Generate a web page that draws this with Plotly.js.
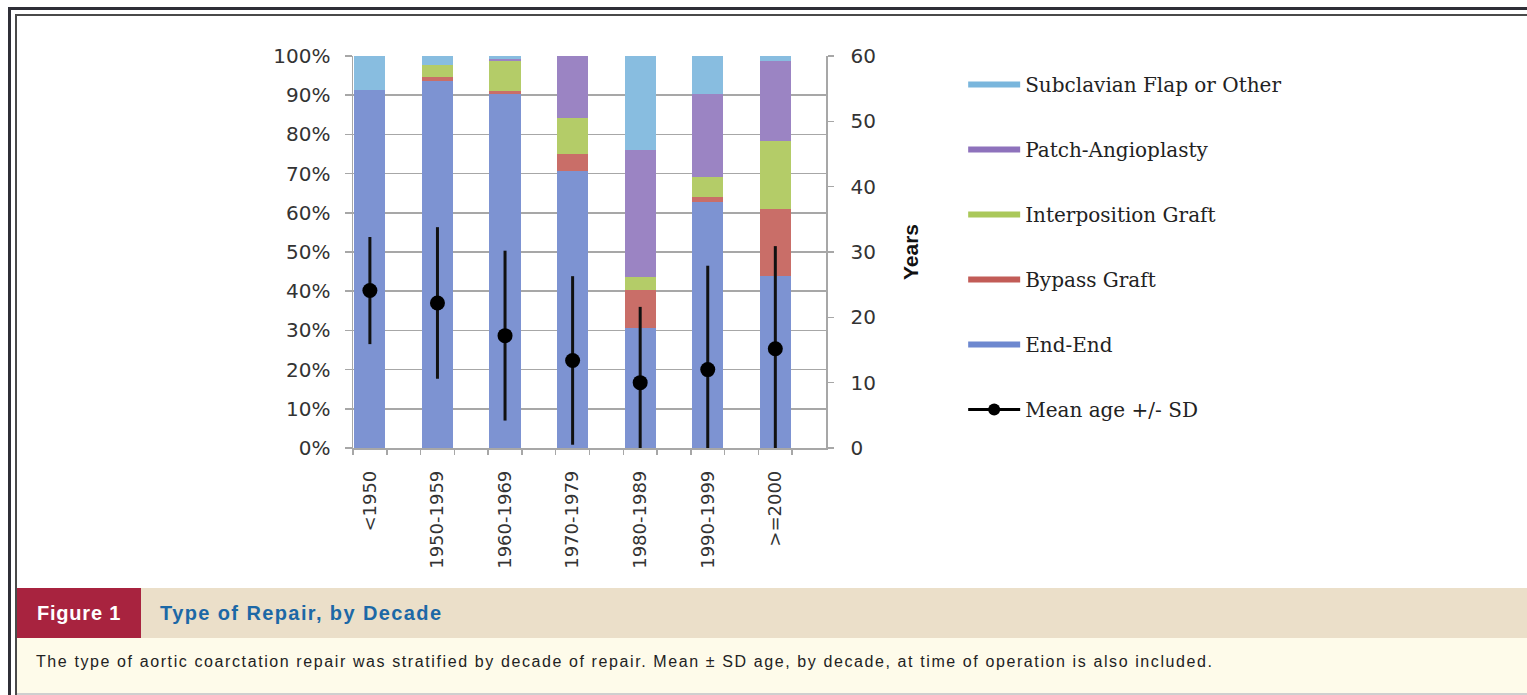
<!DOCTYPE html>
<html>
<head>
<meta charset="utf-8">
<script src="https://cdn.plot.ly/plotly-3.0.1.min.js"></script>
<style>
  html, body { margin:0; padding:0; background:#ffffff; }
  body { width:1527px; height:695px; position:relative; overflow:hidden; }
  #outer { position:absolute; left:8px; top:7px; width:1530px; height:700px; border-top:3px solid #2f2f37; border-left:3px solid #2f2f37; box-sizing:border-box; }
  #inner { position:absolute; left:15px; top:14px; width:1530px; height:700px; border-top:2px solid #4a4a4a; border-left:2px solid #4a4a4a; box-sizing:border-box; }
  #chart { position:absolute; left:0; top:0; width:1527px; height:588px; z-index:2; }
  #band { position:absolute; left:17px; top:588px; width:1510px; height:50px; background:#ebdfc9; z-index:3; }
  #figlab { position:absolute; left:0; top:0; width:124px; height:50px; background:#a8233f; color:#ffffff;
            font-family:"Liberation Sans", Arial, sans-serif; font-weight:bold; font-size:20px; letter-spacing:0.8px; line-height:50px; text-align:center; }
  #figtitle { position:absolute; left:143px; top:0; height:50px; line-height:50px; color:#1c68a6;
            font-family:"Liberation Sans", Arial, sans-serif; font-weight:bold; font-size:20px; letter-spacing:1.4px; }
  #desc { position:absolute; left:17px; top:638px; width:1510px; height:55px; background:#fefbea; z-index:3; }
  #desctext { position:absolute; left:19px; top:15px; color:#222222; font-family:"Liberation Sans", Arial, sans-serif; font-size:16px; letter-spacing:1.6px; white-space:nowrap; }
  #bottomline { position:absolute; left:17px; top:693px; width:1510px; height:2px; background:#cfcfcf; z-index:3; }
</style>
</head>
<body>
<div id="outer"></div>
<div id="inner"></div>
<div id="chart"></div>
<div id="band"><div id="figlab">Figure 1</div><div id="figtitle">Type of Repair, by Decade</div></div>
<div id="desc"><div id="desctext">The type of aortic coarctation repair was stratified by decade of repair. Mean ± SD age, by decade, at time of operation is also included.</div></div>
<div id="bottomline"></div>
<script>
// ---- data ----
const categories = ['<1950', '1950-1959', '1960-1969', '1970-1979', '1980-1989', '1990-1999', '>=2000'];
const endEnd        = [91.3, 93.5, 90.3, 70.7, 30.5, 62.8, 43.9];
const bypassGraft   = [0.0,  1.2,  0.9,  4.3,  9.8,  1.3, 17.1];
const interposition = [0.0,  3.0,  7.6,  9.3,  3.4,  5.1, 17.3];
const patchAngio    = [0.0,  0.0,  0.4, 15.7, 32.3, 21.1, 20.4];
const subclavian    = [8.7,  2.3,  0.8,  0.0, 24.0,  9.7,  1.3];
const meanAge       = [24.1, 22.2, 17.2, 13.4, 10.0, 12.0, 15.2];
const sdAge         = [8.2, 11.6, 13.0, 12.9, 11.6, 15.9, 15.7];
const leftTicks  = [0, 10, 20, 30, 40, 50, 60, 70, 80, 90, 100];
const rightTicks = [0, 10, 20, 30, 40, 50, 60];

const xs = categories.map((c, i) => i);
const minorTicks = [];
for (let j = 0; j < 14; j++) minorTicks.push(-0.25 + 0.5 * j);

const seriesDefs = [
  {name: 'End-End',                 vals: endEnd,        bar: '#7d93d2', leg: '#6d88cf', rank: 5},
  {name: 'Bypass Graft',            vals: bypassGraft,   bar: '#c96e68', leg: '#c25c57', rank: 4},
  {name: 'Interposition Graft',     vals: interposition, bar: '#b4cc68', leg: '#aac85a', rank: 3},
  {name: 'Patch-Angioplasty',       vals: patchAngio,    bar: '#9b84c3', leg: '#8e72bc', rank: 2},
  {name: 'Subclavian Flap or Other',vals: subclavian,    bar: '#88bde0', leg: '#7ab6dc', rank: 1}
];

const traces = [];
seriesDefs.forEach(s => {
  traces.push({
    type: 'bar', x: xs, y: s.vals, width: 0.46, name: s.name,
    marker: {color: s.bar, line: {width: 0}}, showlegend: false,
    xaxis: 'x', yaxis: 'y', hoverinfo: 'skip'
  });
});
// legend entries (wide line swatches)
seriesDefs.forEach(s => {
  traces.push({
    type: 'scatter', mode: 'lines', x: [null], y: [null], name: s.name,
    line: {color: s.leg, width: 6}, legendgroup: s.name, legendrank: s.rank,
    xaxis: 'x', yaxis: 'y', hoverinfo: 'skip'
  });
});
traces.push({
  type: 'scatter', mode: 'lines+markers', x: [null], y: [null], name: 'Mean age +/- SD',
  line: {color: '#000000', width: 3}, marker: {color: '#000000', size: 12},
  legendgroup: 'mean', legendrank: 6, xaxis: 'x', yaxis: 'y', hoverinfo: 'skip'
});
// mean age with SD
traces.push({
  type: 'scatter', mode: 'markers', x: xs, y: meanAge, name: 'Mean age +/- SD',
  marker: {color: '#000000', size: 15},
  error_y: {type: 'data', array: sdAge, symmetric: true, color: '#111111', thickness: 3, width: 0},
  showlegend: false, xaxis: 'x', yaxis: 'y2', cliponaxis: true, hoverinfo: 'skip'
});
// invisible trace to carry the minor tick axis
traces.push({type: 'scatter', mode: 'markers', x: [null], y: [null], xaxis: 'x2', yaxis: 'y', showlegend: false, hoverinfo: 'skip'});

const gridCol = '#a7a7a7';
const tickFont = {family: 'DejaVu Sans, Verdana, sans-serif', size: 20, color: '#333333'};

const layout = {
  width: 1527, height: 588,
  margin: {l: 353, r: 701, t: 56, b: 140, pad: 0},
  paper_bgcolor: 'rgba(0,0,0,0)', plot_bgcolor: '#ffffff',
  barmode: 'stack', bargap: 0,
  showlegend: true,
  legend: {
    x: 1.29, xanchor: 'left', y: 0.977, yanchor: 'top',
    traceorder: 'grouped', tracegroupgap: 36,
    font: {family: 'DejaVu Serif, Georgia, serif', size: 20, color: '#222222'},
    bgcolor: 'rgba(0,0,0,0)', itemwidth: 52
  },
  xaxis: {
    range: [-0.25, 6.75], tickmode: 'array', tickvals: xs, ticktext: categories,
    ticks: '', tickangle: -90, ticklabelstandoff: 14,
    tickfont: {family: 'DejaVu Sans, Verdana, sans-serif', size: 18, color: '#333333'},
    showline: true, linecolor: gridCol, linewidth: 1.5, showgrid: false, zeroline: false, fixedrange: true
  },
  xaxis2: {
    overlaying: 'x', matches: 'x', range: [-0.25, 6.75], side: 'bottom', anchor: 'y',
    tickmode: 'array', tickvals: minorTicks, ticks: 'outside', ticklen: 6, tickwidth: 1.5, tickcolor: gridCol,
    showticklabels: false, showline: false, showgrid: false, zeroline: false, fixedrange: true
  },
  yaxis: {
    range: [0, 100], tickmode: 'array', tickvals: leftTicks, ticktext: leftTicks.map(v => v + '%'),
    ticks: 'outside', ticklen: 7, tickwidth: 1.5, tickcolor: gridCol, ticklabelstandoff: 10,
    tickfont: tickFont, showline: true, linecolor: gridCol, linewidth: 1.5,
    showgrid: true, gridcolor: gridCol, gridwidth: 1.5, zeroline: false, fixedrange: true
  },
  yaxis2: {
    overlaying: 'y', side: 'right', anchor: 'x', range: [0, 60], tickmode: 'array', tickvals: rightTicks,
    ticks: 'outside', ticklen: 6, tickwidth: 1.5, tickcolor: gridCol, ticklabelstandoff: 13,
    tickfont: tickFont, showline: true, linecolor: gridCol, linewidth: 1.5,
    showgrid: false, zeroline: false, fixedrange: true,
    title: {text: 'Years', standoff: 28, font: {family: 'Liberation Sans, Arial, sans-serif', size: 21, color: '#111111', weight: 'bold'}}
  }
};

Plotly.newPlot('chart', traces, layout, {staticPlot: true, displayModeBar: false});
</script>
</body>
</html>
